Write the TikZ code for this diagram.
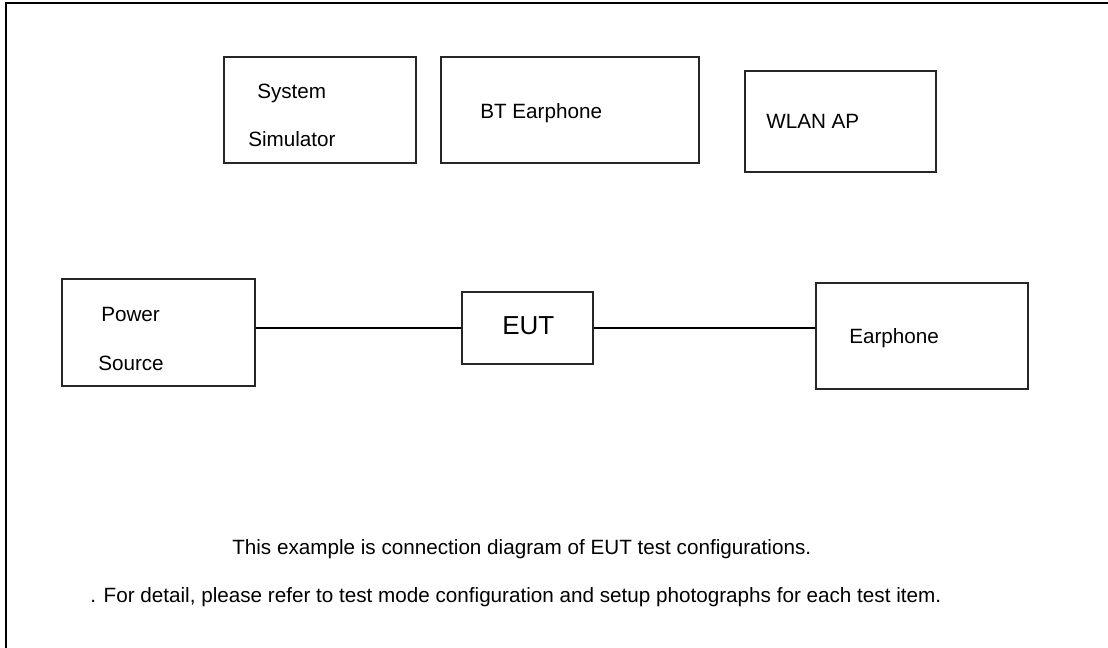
\documentclass[tikz,border=0pt]{standalone}
\usepackage{fontspec}
\setmainfont{Liberation Sans}
\usepackage{xcolor}
\usepackage{tikz}
\usetikzlibrary{calc}

\tikzset{
  unit/.style 2 args={draw=black!85, line width=0.8pt, inner sep=0pt,
    minimum width=#1*0.75pt, minimum height=#2*0.75pt},
  txt/.style={anchor=base west, inner sep=0pt, font=\fontsize{15.5}{18}\selectfont},
  wire/.style={black, line width=1.3pt}
}

\begin{document}
\begin{tikzpicture}[x=0.75pt,y=-0.75pt]
\useasboundingbox (0,0) rectangle (1108,648);
%% outer frame (only top and left edge are seen)
\draw [line width=1.8pt] (6,650) -- (6,3) -- (1110,3);

%% upper row
\node [unit={192}{106}] (sim)  at (320,110) {};
\node [unit={258}{106}] (bt)   at (570,110) {};
\node [unit={191}{101}] (wlan) at (840.5,121.5) {};
\node [txt] (simA)  at (257,99)  {System};
\node [txt] (simB)  at (248,147) {Simulator};
\node [txt] (btT)   at (480,119) {BT Earphone};
\node [txt] (wlanT) at (766,129) {WLAN AP};

%% lower row
\node [unit={193}{107}] (power) at (158.5,332.5) {};
\node [unit={131}{72}]  (eut)   at (527.5,328) {};
\node [unit={212}{106}] (ear)   at (922,336) {};
\node [txt] (powA) at (101,322) {Power};
\node [txt] (powB) at (98,370.5) {Source};
\node [txt,font=\fontsize{19.5}{22}\selectfont] (eutT) at (502,335) {EUT};
\node [txt] (earT) at (849,344) {Earphone};

\draw [wire] (eut.west) -- (eut.west -| power.east);
\draw [wire] (eut.east) -- (eut.east -| ear.west);

%% notes
\node [txt] (noteA) at (232,555) {This example is connection diagram of EUT test configurations.};
\node [txt] (noteB) at (90,603) {. For detail, please refer to test mode configuration and setup photographs for each test item.};
\end{tikzpicture}
\end{document}
